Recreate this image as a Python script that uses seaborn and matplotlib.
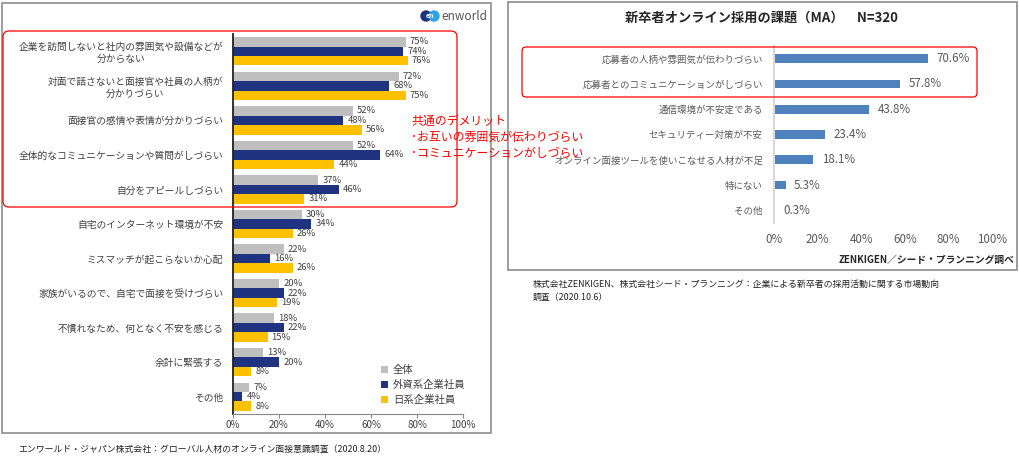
import numpy as np
import pandas as pd
import matplotlib
matplotlib.use("Agg")
import matplotlib.pyplot as plt
from matplotlib.patches import FancyBboxPatch, Rectangle, Circle
import seaborn as sns

sns.set_style("white")
plt.rcParams['font.family'] = ['Noto Sans CJK JP', 'DejaVu Sans']

# left chart: en world survey
left_cats = [
    "企業を訪問しないと社内の雰囲気や設備などが\n分からない",
    "対面で話さないと面接官や社員の人柄が\n分かりづらい",
    "面接官の感情や表情が分かりづらい",
    "全体的なコミュニケーションや質問がしづらい",
    "自分をアピールしづらい",
    "自宅のインターネット環境が不安",
    "ミスマッチが起こらないか心配",
    "家族がいるので、自宅で面接を受けづらい",
    "不慣れなため、何となく不安を感じる",
    "余計に緊張する",
    "その他",
]
left_groups = ["全体", "外資系企業社員", "日系企業社員"]
all_vals = [75, 72, 52, 52, 37, 30, 22, 20, 18, 13, 7]
foreign_vals = [74, 68, 48, 64, 46, 34, 16, 22, 22, 20, 4]
japan_vals = [76, 75, 56, 44, 31, 26, 26, 19, 15, 8, 8]
left_colors = ["#BFBFBF", "#1F3380", "#FFC000"]
x_ticks = [0, 20, 40, 60, 80, 100]

# right chart: ZENKIGEN survey
right_cats = [
    "応募者の人柄や雰囲気が伝わりづらい",
    "応募者とのコミュニケーションがしづらい",
    "通信環境が不安定である",
    "セキュリティー対策が不安",
    "オンライン面接ツールを使いこなせる人材が不足",
    "特にない",
    "その他",
]
right_vals = [70.6, 57.8, 43.8, 23.4, 18.1, 5.3, 0.3]

W, H = 1020, 459


def box(x0, y0, x1, y1):
    return [x0 / W, 1 - y1 / H, (x1 - x0) / W, (y1 - y0) / H]


fig = plt.figure(figsize=(W / 100, H / 100), dpi=100)

# ---- left chart
df_left = pd.DataFrame({
    "cat": left_cats * 3,
    "group": np.repeat(left_groups, len(left_cats)),
    "val": all_vals + foreign_vals + japan_vals,
})
ax1 = fig.add_axes(box(233, 34, 463, 414))
sns.barplot(data=df_left, y="cat", x="val", hue="group", order=left_cats,
            hue_order=left_groups, palette=left_colors, width=0.82,
            saturation=1, linewidth=0, orient="h", ax=ax1)
for cont in ax1.containers:
    ax1.bar_label(cont, fmt="{:.0f}%", padding=3, fontsize=6.8, color="#404040")
ax1.set_xlim(0, 100)
ax1.set_xticks(x_ticks)
ax1.set_xticklabels([f"{t}%" for t in x_ticks])
ax1.set_xlabel("")
ax1.set_ylabel("")
for s in ["top", "right"]:
    ax1.spines[s].set_visible(False)
ax1.spines["left"].set_color("#222222")
ax1.spines["left"].set_linewidth(1.3)
ax1.spines["bottom"].set_color("#888888")
ax1.tick_params(axis="y", length=0, pad=7, labelsize=7, labelcolor="#404040")
ax1.tick_params(axis="x", length=3, color="#888888", pad=1.5, labelsize=7,
                labelcolor="#404040", bottom=True)
for lab in ax1.get_yticklabels():
    lab.set_multialignment("center")
handles, labels = ax1.get_legend_handles_labels()
ax1.legend(handles, labels, loc="upper left", bbox_to_anchor=(372 / W, 1 - 356 / H),
           bbox_transform=fig.transFigure, frameon=False, fontsize=7.5,
           handlelength=0.6, handleheight=0.6, handletextpad=0.5, labelspacing=0.45,
           labelcolor="#404040")

# ---- right chart
df_right = pd.DataFrame({"cat": right_cats, "val": right_vals})
ax2 = fig.add_axes(box(774, 46, 992, 223))
sns.barplot(data=df_right, y="cat", x="val", order=right_cats, color="#4F81BD",
            saturation=1, width=0.34, linewidth=0, orient="h", ax=ax2)
ax2.bar_label(ax2.containers[0], fmt="{:.1f}%", padding=6, fontsize=8.3,
              color="#595959")
ax2.set_xlim(0, 100)
ax2.set_xticks(x_ticks)
ax2.set_xticklabels([f"{t}%" for t in x_ticks])
ax2.set_xlabel("")
ax2.set_ylabel("")
for s in ["top", "right", "bottom"]:
    ax2.spines[s].set_visible(False)
ax2.spines["left"].set_color("#D9D9D9")
ax2.spines["left"].set_linewidth(1.5)
ax2.tick_params(axis="y", length=0, pad=8, labelsize=6.8, labelcolor="#595959")
ax2.tick_params(axis="x", length=0, pad=7, labelsize=8.3, labelcolor="#595959")

# ---- overlay in pixel coordinates: frames, captions, notes
ov = fig.add_axes([0, 0, 1, 1])
ov.set_xlim(0, W)
ov.set_ylim(H, 0)
ov.axis("off")
ov.set_zorder(5)

ov.add_patch(Rectangle((2, 3), 489, 430, fill=False, ec="#8C8C8C", lw=1.2))
ov.add_patch(Rectangle((508, 2), 509, 268, fill=False, ec="#8C8C8C", lw=1.2))
ov.add_patch(FancyBboxPatch((3, 31), 454, 176, boxstyle="round,pad=0,rounding_size=6",
                            fill=False, ec="#FF0000", lw=0.9))
ov.add_patch(FancyBboxPatch((522, 47), 455, 50, boxstyle="round,pad=0,rounding_size=4",
                            fill=False, ec="#FF0000", lw=0.9))

# en world logo
ov.add_patch(Circle((426, 16), 5, color="#1F3380"))
ov.add_patch(Circle((434, 16), 5, color="#2BA3E0"))
ov.text(430, 16, "en", fontsize=5, color="white", fontweight="bold",
        ha="center", va="center")
ov.text(441, 16, "enworld", fontsize=8.5, color="#555555", ha="left", va="center")

ov.text(762, 18, "新卒者オンライン採用の課題（MA）　N=320", fontsize=9.5,
        fontweight="bold", color="#262626", ha="center", va="center")
ov.text(1015, 260, "ZENKIGEN／シード・プランニング調べ", fontsize=7,
        fontweight="bold", color="#262626", ha="right", va="center")

ov.text(18, 449, "エンワールド・ジャパン株式会社：グローバル人材のオンライン面接意識調査（2020.8.20）",
        fontsize=6.4, color="#222222", ha="left", va="center")
ov.text(533, 284, "株式会社ZENKIGEN、株式会社シード・プランニング：企業による新卒者の採用活動に関する市場動向",
        fontsize=6.4, color="#222222", ha="left", va="center")
ov.text(533, 297, "調査（2020.10.6）", fontsize=6.4, color="#222222",
        ha="left", va="center")

ov.text(411, 115, "共通のデメリット\n･お互いの雰囲気が伝わりづらい\n･コミュニケーションがしづらい",
        fontsize=8.6, color="#FF0000", ha="left", va="top", linespacing=1.3)

fig.savefig("out.png", dpi=100)
